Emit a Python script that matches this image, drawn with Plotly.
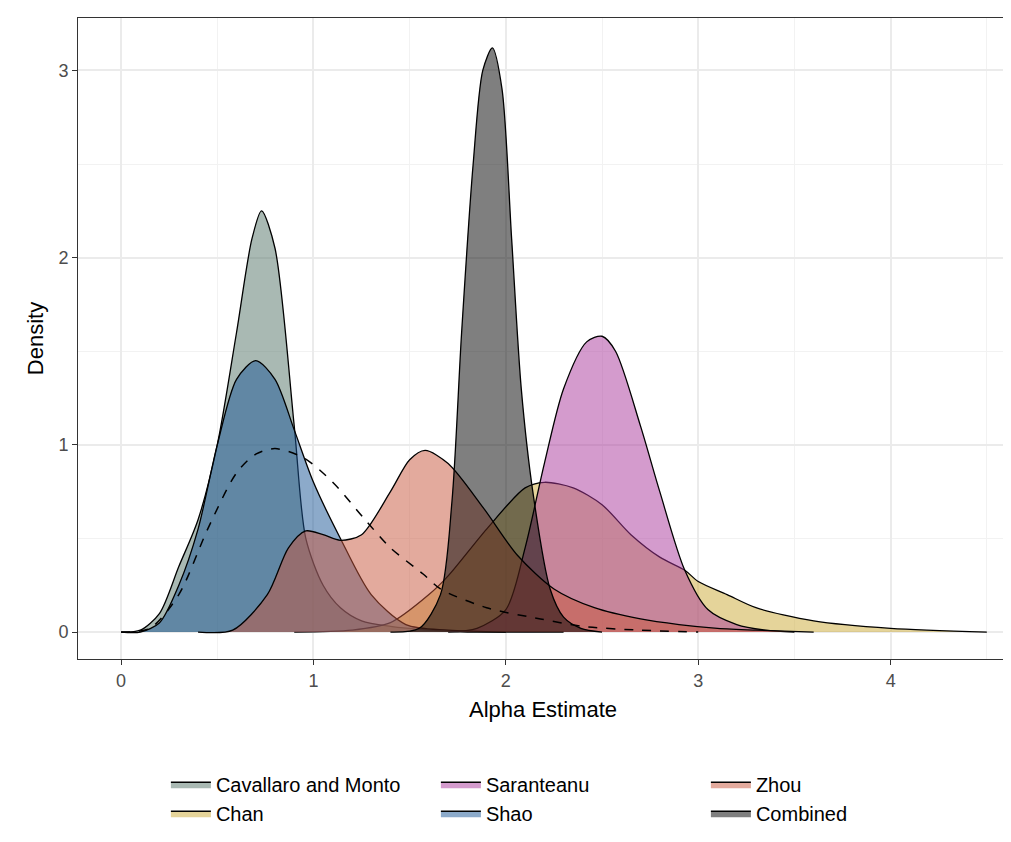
import plotly.graph_objects as go

# Density curves (x, density)
cav_x = [0.0, 0.1, 0.2, 0.3, 0.4, 0.5, 0.6, 0.68, 0.73, 0.8, 0.9, 0.96, 1.05, 1.14, 1.25, 1.4, 1.6, 1.8, 2.0]
cav_y = [0.0, 0.01, 0.1, 0.35, 0.6, 1.0, 1.6, 2.1, 2.25, 2.05, 1.1, 0.5, 0.25, 0.13, 0.06, 0.03, 0.01, 0.0, 0.0]

chan_x = [0.9, 1.2, 1.4, 1.6, 1.7, 1.9, 2.1, 2.2, 2.35, 2.5, 2.65, 2.8, 2.93, 3.0, 3.15, 3.3, 3.6, 4.0, 4.5]
chan_y = [0.0, 0.01, 0.05, 0.2, 0.3, 0.55, 0.77, 0.8, 0.77, 0.68, 0.52, 0.4, 0.33, 0.27, 0.2, 0.13, 0.06, 0.02, 0.0]

sar_x = [1.7, 1.85, 2.0, 2.1, 2.2, 2.3, 2.42, 2.5, 2.57, 2.7, 2.8, 2.93, 3.05, 3.2, 3.35, 3.5]
sar_y = [0.0, 0.02, 0.12, 0.45, 0.9, 1.3, 1.55, 1.58, 1.5, 1.1, 0.75, 0.33, 0.12, 0.04, 0.01, 0.0]

shao_x = [0.0, 0.1, 0.2, 0.3, 0.4, 0.5, 0.6, 0.7, 0.8, 0.9, 1.0, 1.14, 1.3, 1.48, 1.7, 2.0, 2.3]
shao_y = [0.0, 0.0, 0.05, 0.25, 0.55, 1.0, 1.35, 1.45, 1.35, 1.08, 0.8, 0.5, 0.2, 0.04, 0.01, 0.0, 0.0]

zhou_x = [0.4, 0.58, 0.76, 0.87, 0.96, 1.05, 1.14, 1.25, 1.4, 1.5, 1.58, 1.7, 1.885, 2.06, 2.25, 2.46, 2.7, 2.9, 3.1, 3.3, 3.6]
zhou_y = [0.0, 0.01, 0.2, 0.45, 0.54, 0.52, 0.49, 0.52, 0.75, 0.92, 0.97, 0.9, 0.66, 0.41, 0.23, 0.13, 0.07, 0.04, 0.02, 0.01, 0.0]

comb_x = [1.4, 1.55, 1.66, 1.72, 1.77, 1.83, 1.88, 1.93, 1.98, 2.03, 2.08, 2.14, 2.23, 2.3, 2.39, 2.5]
comb_y = [0.0, 0.02, 0.2, 0.7, 1.6, 2.5, 3.0, 3.12, 2.9, 2.1, 1.3, 0.75, 0.23, 0.08, 0.02, 0.0]

prior_x = [0.0, 0.15, 0.3, 0.45, 0.6, 0.7, 0.8, 0.95, 1.1, 1.26, 1.4, 1.57, 1.66, 1.9, 2.18, 2.4, 2.7, 3.0]
prior_y = [0.0, 0.02, 0.2, 0.55, 0.85, 0.95, 0.98, 0.93, 0.8, 0.61, 0.45, 0.31, 0.23, 0.13, 0.07, 0.03, 0.01, 0.0]

series = [
    ("Cavallaro and Monto", cav_x, cav_y, "rgba(84,116,104,0.5)", 1),
    ("Chan", chan_x, chan_y, "rgba(204,170,53,0.5)", 4),
    ("Saranteanu", sar_x, sar_y, "rgba(170,56,156,0.5)", 2),
    ("Shao", shao_x, shao_y, "rgba(26,86,150,0.5)", 5),
    ("Zhou", zhou_x, zhou_y, "rgba(200,85,60,0.5)", 3),
    ("Combined", comb_x, comb_y, "rgba(0,0,0,0.5)", 6),
]

fig = go.Figure()
for name, xs, ys, col, rank in series:
    fig.add_trace(go.Scatter(x=xs, y=ys, name=name, mode="lines",
                             line=dict(color="black", width=1.3, shape="spline", smoothing=0.8),
                             fill="tozeroy", fillcolor=col, legendrank=rank))
fig.add_trace(go.Scatter(x=prior_x, y=prior_y, mode="lines", showlegend=False,
                         line=dict(color="black", width=1.5, dash="dash", shape="spline", smoothing=0.8)))

fig.update_layout(
    width=1011, height=842, plot_bgcolor="white", paper_bgcolor="white",
    font=dict(family="Liberation Sans, Arial", size=19, color="black"),
    margin=dict(l=70, r=11, t=10, b=191),
    legend=dict(orientation="h", x=0.53, xanchor="center", y=-0.165, yanchor="top",
                entrywidth=215, traceorder="normal", font=dict(size=20), itemwidth=40),
    xaxis=dict(title=dict(text="Alpha Estimate", font=dict(size=22), standoff=12), range=[-0.224, 4.61],
               tickvals=[0, 1, 2, 3, 4], ticks="outside", tickcolor="#333", ticklen=5,
               tickfont=dict(color="#4d4d4d", size=18),
               showgrid=True, gridcolor="#ebebeb", gridwidth=1.5,
               minor=dict(tickvals=[0.5, 1.5, 2.5, 3.5, 4.5], showgrid=True, gridcolor="#f2f2f2", gridwidth=1),
               showline=True, linecolor="#333", mirror=True, zeroline=False),
    yaxis=dict(title=dict(text="Density", font=dict(size=22), standoff=8), range=[-0.144, 3.28],
               tickvals=[0, 1, 2, 3], ticks="outside", tickcolor="#333", ticklen=5,
               tickfont=dict(color="#4d4d4d", size=18),
               showgrid=True, gridcolor="#ebebeb", gridwidth=1.5,
               minor=dict(tickvals=[0.5, 1.5, 2.5], showgrid=True, gridcolor="#f2f2f2", gridwidth=1),
               showline=True, linecolor="#333", mirror=True, zeroline=False),
)
fig.write_html("out.html")
